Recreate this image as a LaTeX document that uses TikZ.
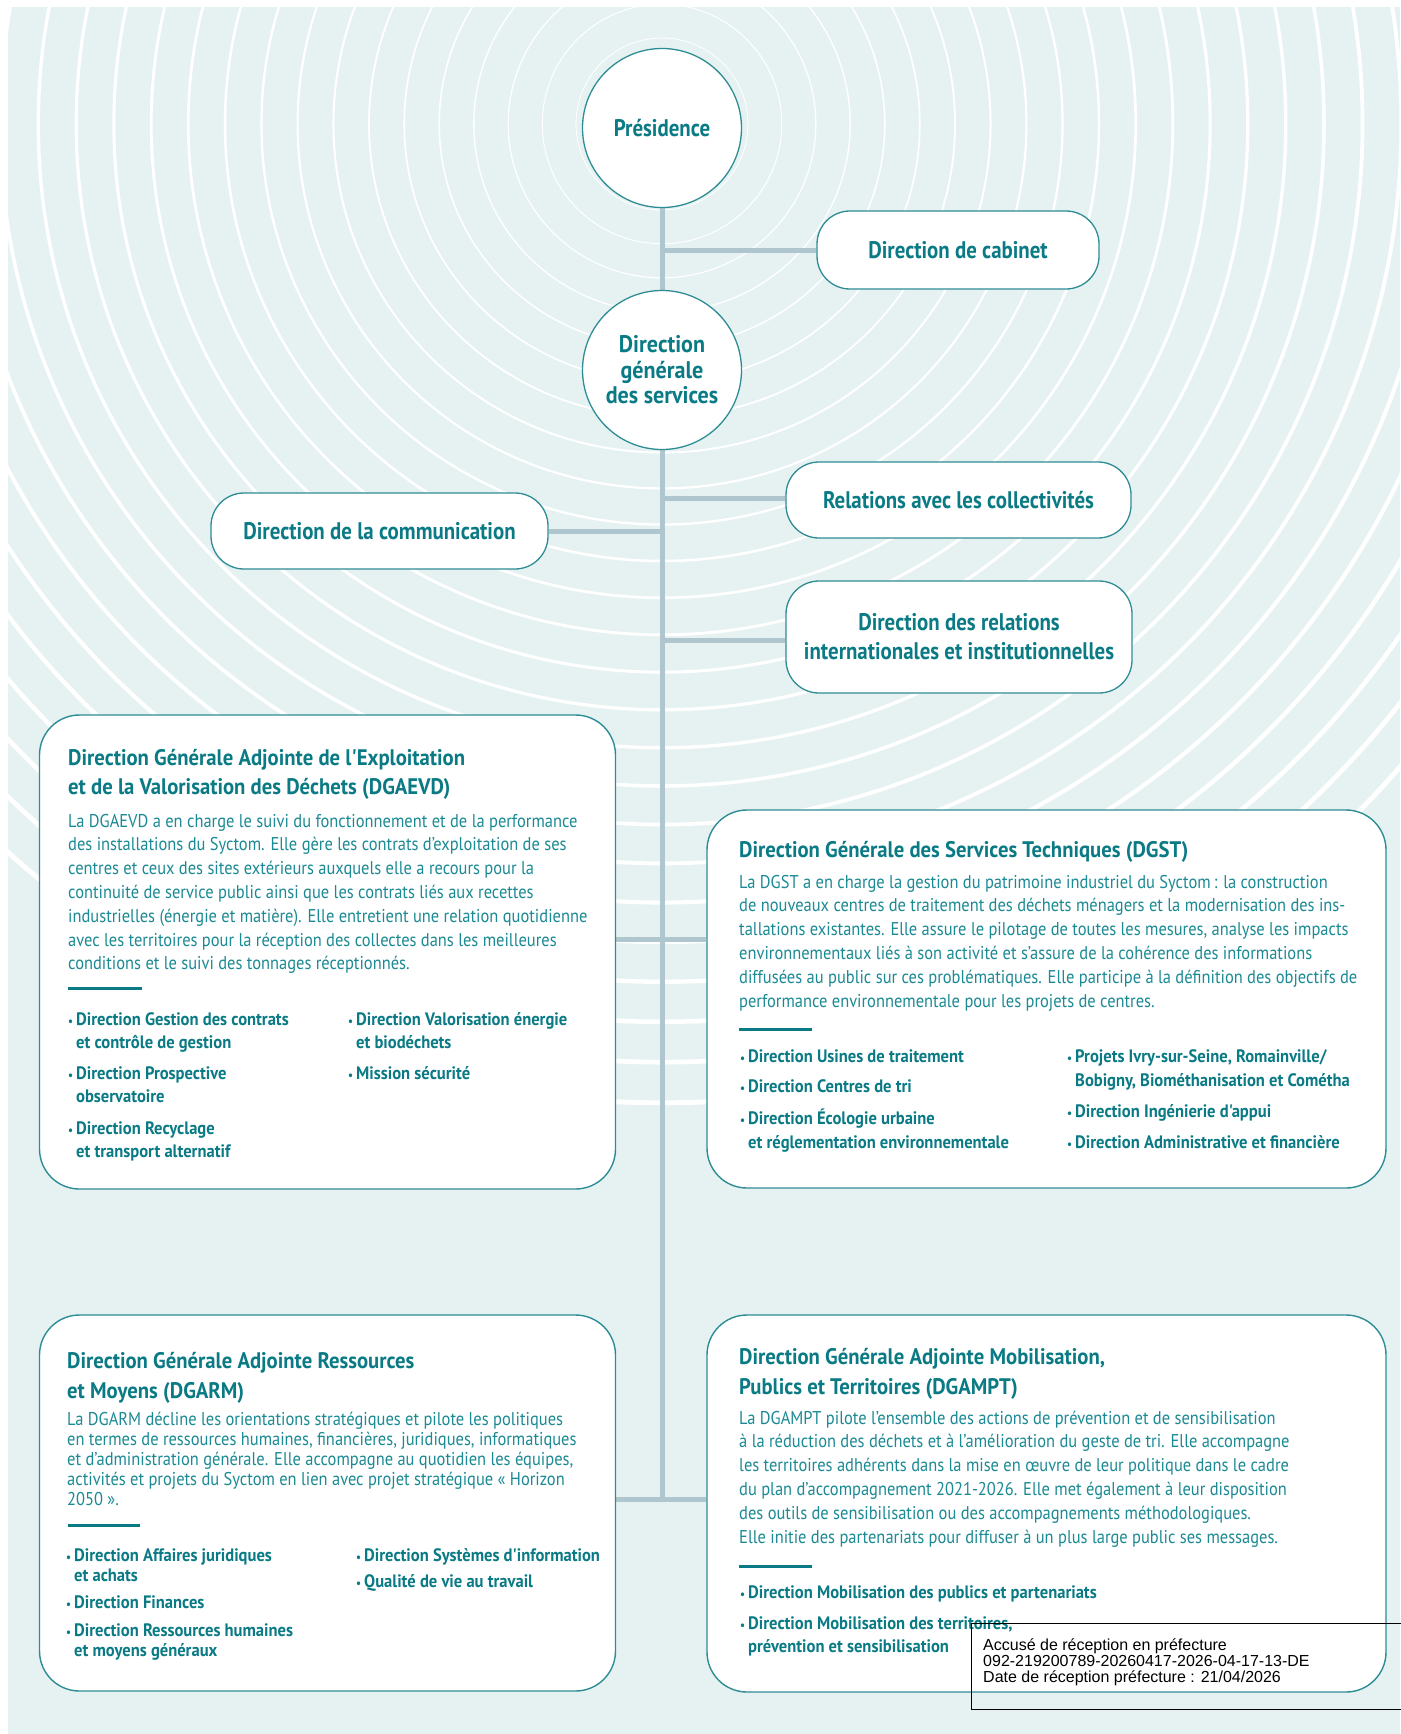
\documentclass[tikz,border=0pt]{standalone}
\usepackage{fontspec}
\setmainfont{PT Sans}[FakeStretch=0.89]
\newfontfamily\pillfont{PT Sans}[FakeStretch=0.87]
\newfontfamily\headfont{PT Sans}[FakeStretch=0.92]
\newfontfamily\stampfont{Liberation Sans}
\definecolor{bgc}{HTML}{E6F2F2}
\definecolor{titlec}{HTML}{0A7A85}
\definecolor{bodyc}{HTML}{1B8A94}
\definecolor{boxc}{HTML}{2E8C95}
\definecolor{connc}{HTML}{AFC6CE}
\pgfdeclarelayer{back}
\pgfdeclarelayer{mid}
\pgfsetlayers{back,mid,main}
\newcommand{\bul}{\llap{{\fontsize{12}{12}\selectfont\textbullet}\hspace{3pt}}}
\tikzset{
  pill/.style={draw=boxc, fill=white, line width=1.3pt, rounded corners=33pt, inner sep=0pt,
    font=\pillfont\bfseries\fontsize{24}{29}\selectfont, text=titlec, align=center},
  roundnode/.style={draw=boxc, fill=white, line width=1.3pt, circle, minimum size=159pt, inner sep=0pt,
    text=titlec, align=center},
  bigbox/.style={draw=boxc, fill=white, line width=1.4pt, rounded corners=40pt, inner sep=0pt},
  conn/.style={draw=connc, line width=5pt},
  ttl/.style={anchor=base west, inner sep=0pt, align=left, text=titlec, font=\headfont\bfseries\fontsize{22.5}{29.5}\selectfont},
  bodytxt/.style={anchor=base west, inner sep=0pt, align=left, text=bodyc, font=\fontsize{18.5}{23.8}\selectfont},
  bodytight/.style={anchor=base west, inner sep=0pt, align=left, text=bodyc, font=\fontsize{18.5}{20.2}\selectfont},
  bullt/.style={anchor=base west, inner sep=0pt, align=left, text=titlec, font=\headfont\bfseries\fontsize{18}{23.5}\selectfont},
  bulltight/.style={anchor=base west, inner sep=0pt, align=left, text=titlec, font=\headfont\bfseries\fontsize{18}{20.5}\selectfont},
  rulel/.style={draw=titlec, line width=3pt},
}
\begin{document}
\begin{tikzpicture}[x=1pt,y=-1pt]
\useasboundingbox (0,0) rectangle (1400,1734);
\begin{pgfonlayer}{back}
  \fill[white] (0,0) rectangle (1400,1734);
  \fill[bgc] (8,7) rectangle (1400,1734);
  \begin{scope}
    \clip (8,7) rectangle (1400,1734);
    \foreach \k in {0,...,24} {
      \pgfmathsetmacro\rr{86+33.6*\k+0.15*\k*\k}
      \pgfmathsetmacro\ww{0.8+0.17*\k}
      \draw[white, line width=\ww pt] (662,124) circle (\rr);
    }
  \end{scope}
\end{pgfonlayer}

% top nodes
\node[roundnode, font=\pillfont\bfseries\fontsize{24}{25.5}\selectfont] (pres) at (662,128) {Présidence};
\node[pill, minimum width=282pt, minimum height=78pt] (cab) at (958,250) {Direction de cabinet};
\node[roundnode, font=\headfont\bfseries\fontsize{24}{25.5}\selectfont] (dgs) at (662,370) {Direction\\générale\\des services};
\node[pill, minimum width=345pt, minimum height=76pt] (coll) at (958.5,500) {Relations avec les collectivités};
\node[pill, minimum width=346pt, minimum height=112pt] (dri) at (959,637) {Direction des relations\\internationales et institutionnelles};
\node[pill, minimum width=337pt, minimum height=76pt] (com) at (379.5,531) {Direction de la communication};

% big boxes
\node[bigbox, minimum width=576pt, minimum height=474pt] (dgaevd) at (327.5,952) {};
\node[bigbox, minimum width=679pt, minimum height=378pt] (dgst) at (1046.5,999) {};
\node[bigbox, minimum width=576pt, minimum height=376pt] (dgarm) at (327.5,1503) {};
\node[bigbox, minimum width=679pt, minimum height=377pt] (dgampt) at (1046.5,1503.5) {};

% connectors
\coordinate (vend) at (662,1499);
\coordinate (j0) at (662,250);
\coordinate (j1) at (662,498);
\coordinate (j2) at (662,531);
\coordinate (j3) at (662,640);
\coordinate (j4) at (662,939);
\begin{pgfonlayer}{mid}
  \draw[conn] (pres.south) -- (vend);
  \draw[conn] (j0) -- (j0 -| cab.west);
  \draw[conn] (j1) -- (j1 -| coll.west);
  \draw[conn] (j2) -- (j2 -| com.east);
  \draw[conn] (j3) -- (j3 -| dri.west);
  \draw[conn] (j4) -- (j4 -| dgaevd.east);
  \draw[conn] (j4) -- (j4 -| dgst.west);
  \draw[conn] (vend) -- (vend -| dgarm.east);
  \draw[conn] (vend) -- (vend -| dgampt.west);
\end{pgfonlayer}

% DGAEVD (multi-line nodes are placed at the baseline of their last line)
\node[ttl] (t1) at (68,794.5) {Direction Générale Adjointe de l'Exploitation\\et de la Valorisation des Déchets (DGAEVD)};
\node[bodytxt] (b1) at (68,969.8) {La DGAEVD a en charge le suivi du fonctionnement et de la performance\\
des installations du Syctom. Elle gère les contrats d'exploitation de ses\\
centres et ceux des sites extérieurs auxquels elle a recours pour la\\
continuité de service public ainsi que les contrats liés aux recettes\\
industrielles (énergie et matière). Elle entretient une relation quotidienne\\
avec les territoires pour la réception des collectes dans les meilleures\\
conditions et le suivi des tonnages réceptionnés.};
\draw[rulel] (68,988) -- (142,988);
\node[bullt] (l1a) at (76,1048.5) {\bul Direction Gestion des contrats\\et contrôle de gestion};
\node[bullt] (l1b) at (76,1102.5) {\bul Direction Prospective\\observatoire};
\node[bullt] (l1c) at (76,1157.5) {\bul Direction Recyclage\\et transport alternatif};
\node[bullt] (r1a) at (356,1048.5) {\bul Direction Valorisation énergie\\et biodéchets};
\node[bullt] (r1b) at (356,1079) {\bul Mission sécurité};

% DGST
\node[ttl] (t2) at (739,857) {Direction Générale des Services Techniques (DGST)};
\node[bodytxt] (b2) at (739,1007) {La DGST a en charge la gestion du patrimoine industriel du Syctom\,: la construction\\
de nouveaux centres de traitement des déchets ménagers et la modernisation des ins-\\
tallations existantes. Elle assure le pilotage de toutes les mesures, analyse les impacts\\
environnementaux liés à son activité et s'assure de la cohérence des informations\\
diffusées au public sur ces problématiques. Elle participe à la définition des objectifs de\\
performance environnementale pour les projets de centres.};
\draw[rulel] (739,1029) -- (812,1029);
\node[bullt] (l2a) at (748,1062) {\bul Direction Usines de traitement};
\node[bullt] (l2b) at (748,1092) {\bul Direction Centres de tri};
\node[bullt] (l2c) at (748,1148) {\bul Direction Écologie urbaine\\et réglementation environnementale};
\node[bullt] (r2a) at (1075,1086) {\bul Projets Ivry-sur-Seine, Romainville/\\Bobigny, Biométhanisation et Cométha};
\node[bullt] (r2b) at (1075,1117) {\bul Direction Ingénierie d'appui};
\node[bullt] (r2c) at (1075,1148) {\bul Direction Administrative et financière};

% DGARM
\node[ttl] (t3) at (67,1398) {Direction Générale Adjointe Ressources\\et Moyens (DGARM)};
\node[bodytight] (b3) at (67,1505.8) {La DGARM décline les orientations stratégiques et pilote les politiques\\
en termes de ressources humaines, financières, juridiques, informatiques\\
et d'administration générale. Elle accompagne au quotidien les équipes,\\
activités et projets du Syctom en lien avec projet stratégique « Horizon\\
2050 ».};
\draw[rulel] (68,1525) -- (140,1525);
\node[bulltight] (l3a) at (74,1581.5) {\bul Direction Affaires juridiques\\et achats};
\node[bulltight] (l3b) at (74,1608) {\bul Direction Finances};
\node[bulltight] (l3c) at (74,1656.5) {\bul Direction Ressources humaines\\et moyens généraux};
\node[bulltight] (r3a) at (364,1561) {\bul Direction Systèmes d'information};
\node[bulltight] (r3b) at (364,1587) {\bul Qualité de vie au travail};

% DGAMPT
\node[ttl] (t4) at (739,1394) {Direction Générale Adjointe Mobilisation,\\Publics et Territoires (DGAMPT)};
\node[bodytxt] (b4) at (739,1543) {La DGAMPT pilote l'ensemble des actions de prévention et de sensibilisation\\
à la réduction des déchets et à l'amélioration du geste de tri. Elle accompagne\\
les territoires adhérents dans la mise en œuvre de leur politique dans le cadre\\
du plan d'accompagnement 2021-2026. Elle met également à leur disposition\\
des outils de sensibilisation ou des accompagnements méthodologiques.\\
Elle initie des partenariats pour diffuser à un plus large public ses messages.};
\draw[rulel] (739,1566) -- (812,1566);
\node[bullt] (l4a) at (748,1598) {\bul Direction Mobilisation des publics et partenariats};
\node[bullt] (l4b) at (748,1652.5) {\bul Direction Mobilisation des territoires,\\prévention et sensibilisation};

% stamp
\draw[black, line width=1pt] (1401,1623) -- (971,1623) -- (971,1709) -- (1401,1709);
\node[anchor=base west, inner sep=0pt, align=left, font=\stampfont\fontsize{16}{16}\selectfont] (stamp) at (983,1682)
  {Accusé de réception en préfecture\\092-219200789-20260417-2026-04-17-13-DE\\Date de réception préfecture : 21/04/2026};
\end{tikzpicture}
\end{document}
